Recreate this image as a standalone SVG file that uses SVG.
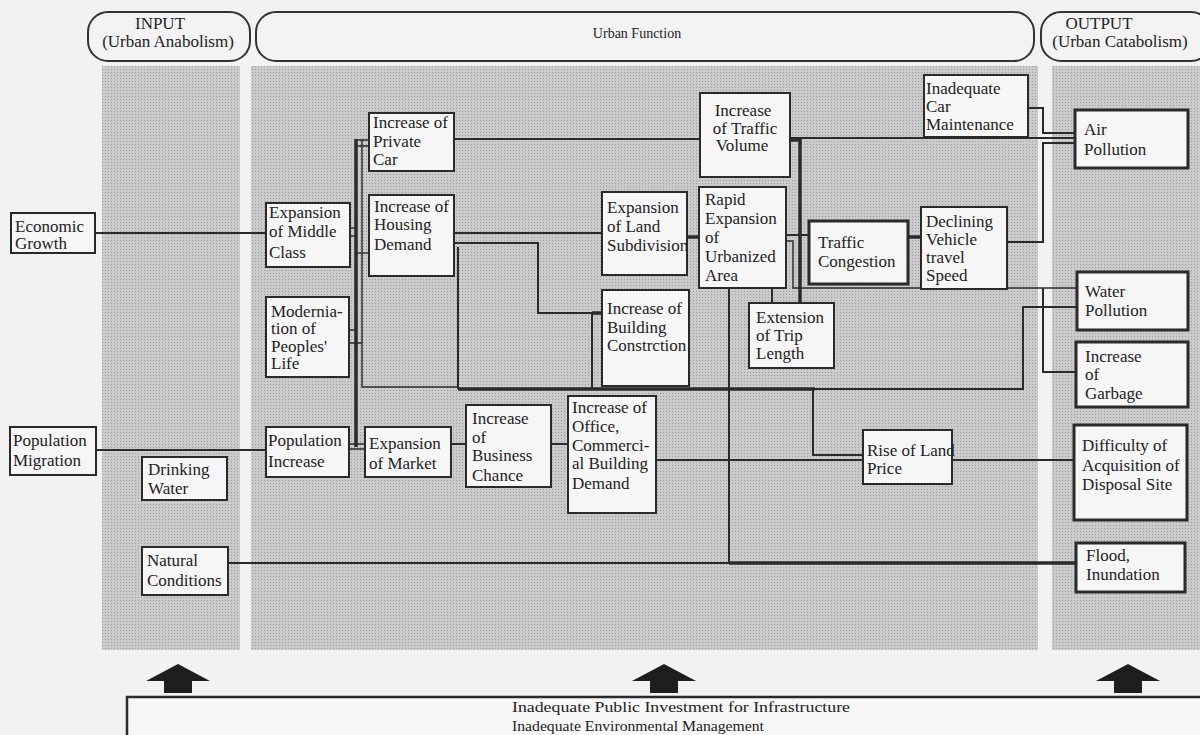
<svg xmlns="http://www.w3.org/2000/svg" width="1200" height="735" viewBox="0 0 1200 735">
<defs>
<pattern id="dots" width="3" height="3" patternUnits="userSpaceOnUse"><rect width="3" height="3" fill="#cbcbcb"/><rect width="1" height="1" fill="#9a9a9a"/></pattern>
<style>
.box{fill:#f6f6f6;stroke:#2a2a2a;stroke-width:2}
.thick{stroke-width:3}
.t{font-family:"Liberation Serif","Times New Roman",serif;font-size:17px;fill:#222}
.h{font-family:"Liberation Serif","Times New Roman",serif;font-size:17px;fill:#222}
.ln{fill:none;stroke:#2a2a2a;stroke-width:2}
.lt{stroke-width:1.4}
.lk{stroke-width:3.5}
.hdr{fill:#f3f3f3;stroke:#333;stroke-width:2}
.arr{fill:#1e1e1e}
</style>
</defs>
<rect width="1200" height="735" fill="#f2f2f2"/>
<g id="columns">
<rect x="102" y="66" width="138" height="584" fill="url(#dots)"/>
<rect x="251" y="66" width="787" height="584" fill="url(#dots)"/>
<rect x="1052" y="66" width="148" height="584" fill="url(#dots)"/>
</g>
<g id="headers">
<g id="hdr-input"><rect class="hdr" x="88" y="12" width="162" height="49" rx="20"/><text class="h" x="160" y="29" text-anchor="middle">INPUT</text><text class="h" x="168" y="47" text-anchor="middle">(Urban Anabolism)</text></g>
<g id="hdr-function"><rect class="hdr" x="256" y="12" width="778" height="49" rx="20"/><text class="h" x="637" y="38" text-anchor="middle" style="font-size:14px">Urban Function</text></g>
<g id="hdr-output"><rect class="hdr" x="1041" y="12" width="170" height="49" rx="20"/><text class="h" x="1099" y="29" text-anchor="middle">OUTPUT</text><text class="h" x="1120" y="47" text-anchor="middle">(Urban Catabolism)</text></g>
</g>
<g id="connectors">
<path class="ln" d="M96 233H266"/>
<path class="ln" d="M96 450H266"/>
<path class="ln" d="M228 563H729"/>
<path class="ln lk" d="M729 563H1076"/>
<path class="ln lk" d="M356 139V447"/>
<path class="ln lt" d="M362 139V387H458"/>
<path class="ln lt" d="M356 140H369M356 146H369"/>
<path class="ln lt" d="M349 228H356M349 236H356"/>
<path class="ln lt" d="M356 253H369"/>
<path class="ln lt" d="M349 330H356M349 343H362"/>
<path class="ln lt" d="M349 444H365M349 449H365"/>
<path class="ln" d="M454 139H700"/>
<path class="ln" d="M790 138H1075"/>
<path class="ln" d="M1028 108H1043V133H1075"/>
<path class="ln" d="M1007 242H1043V143H1075"/>
<path class="ln lk" d="M790 140H800V303"/>
<path class="ln" d="M454 233H602"/>
<path class="ln" d="M454 243H538V313H602"/>
<path class="ln lk" d="M592 313H602"/>
<path class="ln" d="M458 247V389"/>
<path class="ln lk" d="M458 389H815"/>
<path class="ln" d="M815 389H1023V307H1077"/>
<path class="ln" d="M592 313V389"/>
<path class="ln lk" d="M687 237H699"/>
<path class="ln" d="M786 235H809"/>
<path class="ln lt" d="M786 241H793V288H1077"/>
<path class="ln lk" d="M908 237H921"/>
<path class="ln" d="M1043 288V372H1076"/>
<path class="ln" d="M772 288V303"/>
<path class="ln" d="M729 288V563"/>
<path class="ln" d="M451 444H466"/>
<path class="ln" d="M551 444H569"/>
<path class="ln" d="M656 460H863M952 460H1074"/>
<path class="ln" d="M813 389V455H863"/>
</g>
<g id="n-econ"><rect class="box" x="11" y="213" width="84" height="40"/><text class="t" x="15" y="232">Economic</text><text class="t" x="15" y="249">Growth</text></g>
<g id="n-popmig"><rect class="box" x="10" y="427" width="86" height="48"/><text class="t" x="13" y="446">Population</text><text class="t" x="13" y="466">Migration</text></g>
<g id="n-drink"><rect class="box" x="142" y="457" width="85" height="43"/><text class="t" x="148" y="475">Drinking</text><text class="t" x="148" y="494">Water</text></g>
<g id="n-natural"><rect class="box" x="142" y="547" width="86" height="48"/><text class="t" x="147" y="566">Natural</text><text class="t" x="147" y="586">Conditions</text></g>
<g id="n-privcar"><rect class="box" x="369" y="113" width="85" height="58"/><text class="t" x="373" y="128">Increase of</text><text class="t" x="373" y="147">Private</text><text class="t" x="373" y="165">Car</text></g>
<g id="n-middle"><rect class="box" x="266" y="203" width="84" height="64"/><text class="t" x="269" y="218">Expansion</text><text class="t" x="269" y="237">of Middle</text><text class="t" x="269" y="258">Class</text></g>
<g id="n-housing"><rect class="box" x="369" y="195" width="85" height="81"/><text class="t" x="374" y="212">Increase of</text><text class="t" x="374" y="230">Housing</text><text class="t" x="374" y="250">Demand</text></g>
<g id="n-modern"><rect class="box" x="266" y="297" width="83" height="80"/><text class="t" x="271" y="317">Modernia-</text><text class="t" x="271" y="334">tion of</text><text class="t" x="271" y="352">Peoples'</text><text class="t" x="271" y="369">Life</text></g>
<g id="n-popinc"><rect class="box" x="266" y="427" width="83" height="50"/><text class="t" x="268" y="446">Population</text><text class="t" x="268" y="467">Increase</text></g>
<g id="n-market"><rect class="box" x="365" y="427" width="86" height="50"/><text class="t" x="369" y="449">Expansion</text><text class="t" x="369" y="469">of Market</text></g>
<g id="n-business"><rect class="box" x="466" y="405" width="85" height="82"/><text class="t" x="472" y="424">Increase</text><text class="t" x="472" y="443">of</text><text class="t" x="472" y="461">Business</text><text class="t" x="472" y="481">Chance</text></g>
<g id="n-office"><rect class="box" x="568" y="396" width="88" height="117"/><text class="t" x="572" y="413">Increase of</text><text class="t" x="572" y="432">Office,</text><text class="t" x="572" y="451">Commerci-</text><text class="t" x="572" y="469">al Building</text><text class="t" x="572" y="489">Demand</text></g>
<g id="n-land"><rect class="box" x="602" y="192" width="85" height="83"/><text class="t" x="607" y="213">Expansion</text><text class="t" x="607" y="232">of Land</text><text class="t" x="607" y="251">Subdivision</text></g>
<g id="n-building"><rect class="box" x="602" y="290" width="87" height="96"/><text class="t" x="607" y="314">Increase of</text><text class="t" x="607" y="333">Building</text><text class="t" x="607" y="351">Constrction</text></g>
<g id="n-traffic"><rect class="box" x="700" y="93" width="90" height="84"/><text class="t" x="743" y="116" text-anchor="middle">Increase</text><text class="t" x="745" y="134" text-anchor="middle">of Traffic</text><text class="t" x="742" y="151" text-anchor="middle">Volume</text></g>
<g id="n-rapid"><rect class="box" x="699" y="187" width="87" height="101"/><text class="t" x="705" y="205">Rapid</text><text class="t" x="705" y="224">Expansion</text><text class="t" x="705" y="243">of</text><text class="t" x="705" y="262">Urbanized</text><text class="t" x="705" y="281">Area</text></g>
<g id="n-trip"><rect class="box" x="749" y="303" width="85" height="65"/><text class="t" x="756" y="323">Extension</text><text class="t" x="756" y="341">of Trip</text><text class="t" x="756" y="359">Length</text></g>
<g id="n-congestion"><rect class="box thick" x="809" y="221" width="99" height="63"/><text class="t" x="818" y="248">Traffic</text><text class="t" x="818" y="267">Congestion</text></g>
<g id="n-declining"><rect class="box" x="921" y="207" width="86" height="82"/><text class="t" x="926" y="227">Declining</text><text class="t" x="926" y="245">Vehicle</text><text class="t" x="926" y="263">travel</text><text class="t" x="926" y="281">Speed</text></g>
<g id="n-maint"><rect class="box" x="924" y="75" width="104" height="62"/><text class="t" x="926" y="94">Inadequate</text><text class="t" x="926" y="112">Car</text><text class="t" x="926" y="130">Maintenance</text></g>
<g id="n-rise"><rect class="box" x="863" y="430" width="89" height="54"/><text class="t" x="867" y="456">Rise of Land</text><text class="t" x="867" y="474">Price</text></g>
<g id="n-air"><rect class="box thick" x="1075" y="110" width="113" height="58"/><text class="t" x="1084" y="135">Air</text><text class="t" x="1084" y="155">Pollution</text></g>
<g id="n-water"><rect class="box thick" x="1077" y="272" width="111" height="58"/><text class="t" x="1085" y="297">Water</text><text class="t" x="1085" y="316">Pollution</text></g>
<g id="n-garbage"><rect class="box thick" x="1076" y="342" width="112" height="65"/><text class="t" x="1085" y="362">Increase</text><text class="t" x="1085" y="380">of</text><text class="t" x="1085" y="399">Garbage</text></g>
<g id="n-disposal"><rect class="box thick" x="1074" y="425" width="113" height="95"/><text class="t" x="1082" y="451">Difficulty of</text><text class="t" x="1082" y="471">Acquisition of</text><text class="t" x="1082" y="490">Disposal Site</text></g>
<g id="n-flood"><rect class="box thick" x="1076" y="543" width="109" height="49"/><text class="t" x="1086" y="561">Flood,</text><text class="t" x="1086" y="580">Inundation</text></g>
<g id="arrows">
<path class="arr" d="M178 664L210 681H192V693H164V681H146Z"/>
<path class="arr" d="M664 664L696 681H678V693H650V681H632Z"/>
<path class="arr" d="M1128 664L1160 681H1142V693H1114V681H1096Z"/>
</g>
<g id="n-bottom"><rect x="127" y="697" width="1078" height="45" fill="#f7f7f7" stroke="#2a2a2a" stroke-width="2.5"/><text class="t" x="512" y="712" style="font-size:14px" textLength="338" lengthAdjust="spacingAndGlyphs">Inadequate Public Investment for Infrastructure</text><text class="t" x="512" y="731" style="font-size:14px" textLength="252" lengthAdjust="spacingAndGlyphs">Inadequate Environmental Management</text></g>
</svg>
